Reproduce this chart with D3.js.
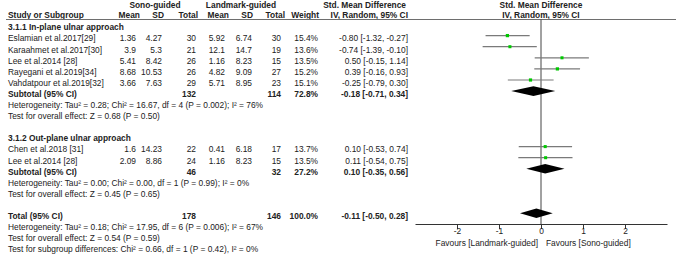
<!DOCTYPE html>
<html><head><meta charset="utf-8">
<script src="https://cdn.jsdelivr.net/npm/d3@7"></script>
<style>
html,body{margin:0;padding:0;background:#fff;}
svg{display:block;font-family:"Liberation Sans",Arial,sans-serif;}
</style></head>
<body>
<svg id="c" width="676" height="255"></svg>
<script>
// ---- data ----
const group1Title = "3.1.1 In-plane ulnar approach";
const group2Title = "3.1.2 Out-plane ulnar approach";
const studies = ["Eslamian et al.2017[29]","Karaahmet et al.2017[30]","Lee et al.2014 [28]","Rayegani et al.2019[34]","Vahdatpour et al.2019[32]","Chen et al.2018 [31]","Lee et al.2014 [28]"];
const studyGroup = [1,1,1,1,1,2,2];
const sonoMean = ["1.36","3.9","5.41","8.68","3.66","1.6","2.09"];
const sonoSD = ["4.27","5.3","8.42","10.53","7.63","14.23","8.86"];
const sonoN = [30,21,26,26,29,22,24];
const landMean = ["5.92","12.1","1.16","4.82","5.71","0.41","1.16"];
const landSD = ["6.74","14.7","8.23","9.09","8.95","6.18","8.23"];
const landN = [30,19,15,27,23,17,15];
const weights = [15.4,13.6,13.5,15.2,15.1,13.7,13.5];
const smd = [-0.80,-0.74,0.50,0.39,-0.25,0.10,0.11];
const ciLo = [-1.32,-1.39,-0.15,-0.16,-0.79,-0.53,-0.54];
const ciHi = [-0.27,-0.10,1.14,0.93,0.30,0.74,0.75];
const pooledLabels = ["Subtotal (95% CI)","Subtotal (95% CI)","Total (95% CI)"];
const pooledSonoN = [132,46,178];
const pooledLandN = [114,32,146];
const pooledWeight = [72.8,27.2,100.0];
const pooledSmd = [-0.18,0.10,-0.11];
const pooledLo = [-0.71,-0.35,-0.50];
const pooledHi = [0.34,0.56,0.28];
const notes1 = ["Heterogeneity: Tau\u00B2 = 0.28; Chi\u00B2 = 16.67, df = 4 (P = 0.002); I\u00B2 = 76%","Test for overall effect: Z = 0.68 (P = 0.50)"];
const notes2 = ["Heterogeneity: Tau\u00B2 = 0.00; Chi\u00B2 = 0.00, df = 1 (P = 0.99); I\u00B2 = 0%","Test for overall effect: Z = 0.45 (P = 0.65)"];
const notesT = ["Heterogeneity: Tau\u00B2 = 0.18; Chi\u00B2 = 17.95, df = 6 (P = 0.006); I\u00B2 = 67%","Test for overall effect: Z = 0.54 (P = 0.59)","Test for subgroup differences: Chi\u00B2 = 0.66, df = 1 (P = 0.42), I\u00B2 = 0%"];
const axisTicks = [-2,-1,0,1,2];
const axisDomain = [-3,3];
const favLeft = "Favours [Landmark-guided]";
const favRight = "Favours [Sono-guided]";

// ---- layout ----
const svg = d3.select("#c");
const FS = 8.4, TXT = "#222";
const x = d3.scaleLinear().domain(axisDomain).range([415,667]);
const rowY = d3.scaleLinear().domain([0,20]).range([24.5, 24.5+20*11.1]);
const textOff = 5.8;
const axisY = 224;
const col = {sm:136, ss:162, sn:196, lm:225, ls:252, ln:281, w:318, ci:408};
const hdr = {sm:140, ss:164, sn:198, lm:229, ls:253, ln:285, w:319, ci:408};
const fmt2 = v => d3.format(".2f")(v).replace("\u2212","-");
const ciText = (m,l,h)=> `${fmt2(m)} [${fmt2(l)}, ${fmt2(h)}]`;

function txt(xp, y, s, opt={}){
  return svg.append("text").attr("x",xp).attr("y",y).text(s)
    .attr("font-size",FS).attr("fill",TXT)
    .attr("font-weight",opt.bold?"bold":"normal")
    .attr("text-anchor",opt.anchor||"start");
}

// header
txt(155,7.5,"Sono-guided",{bold:true,anchor:"middle"});
txt(241,7.5,"Landmark-guided",{bold:true,anchor:"middle"});
txt(406,7.5,"Std. Mean Difference",{bold:true,anchor:"end"});
txt(x(0),7.5,"Std. Mean Difference",{bold:true,anchor:"middle"});
const h2 = 17.5;
txt(8,h2,"Study or Subgroup",{bold:true});
[["Mean",hdr.sm],["SD",hdr.ss],["Total",hdr.sn],["Mean",hdr.lm],["SD",hdr.ls],["Total",hdr.ln],["Weight",hdr.w],["IV, Random, 95% CI",hdr.ci]]
  .forEach(([s,xp])=>txt(xp,h2,s,{bold:true,anchor:"end"}));
txt(x(0),h2,"IV, Random, 95% CI",{bold:true,anchor:"middle"});
svg.append("line").attr("x1",6).attr("x2",676).attr("y1",19.5).attr("y2",19.5)
  .attr("stroke","#6e6e6e").attr("stroke-width",1.2);

// zero line
svg.append("line").attr("x1",x(0)).attr("x2",x(0)).attr("y1",19.5).attr("y2",axisY)
  .attr("stroke","#444").attr("stroke-width",1);

// group titles
txt(8,rowY(0)+textOff,group1Title,{bold:true});
txt(8,rowY(10)+textOff,group2Title,{bold:true});

// study rows
const studyRow = [1,2,3,4,5,11,12];
const sq = d3.scaleSqrt().domain([0,16]).range([0,3.3]);
studies.forEach((s,i)=>{
  const gy = rowY(studyRow[i]), ty = gy+textOff;
  txt(8,ty,s);
  txt(col.sm,ty,sonoMean[i],{anchor:"end"});
  txt(col.ss,ty,sonoSD[i],{anchor:"end"});
  txt(col.sn,ty,sonoN[i],{anchor:"end"});
  txt(col.lm,ty,landMean[i],{anchor:"end"});
  txt(col.ls,ty,landSD[i],{anchor:"end"});
  txt(col.ln,ty,landN[i],{anchor:"end"});
  txt(col.w,ty,weights[i].toFixed(1)+"%",{anchor:"end"});
  txt(col.ci,ty,ciText(smd[i],ciLo[i],ciHi[i]),{anchor:"end"});
  svg.append("line").attr("x1",x(ciLo[i])).attr("x2",x(ciHi[i])).attr("y1",gy).attr("y2",gy)
    .attr("stroke","#7a7a7a").attr("stroke-width",1.2);
  const s2 = sq(weights[i]);
  svg.append("rect").attr("x",x(smd[i])-s2/2).attr("y",gy-s2/2).attr("width",s2).attr("height",s2)
    .attr("fill","#00c800");
});

// pooled rows
const pooledRow = [6,13,17];
pooledLabels.forEach((s,i)=>{
  const gy = rowY(pooledRow[i]), ty = gy+textOff;
  txt(8,ty,s,{bold:true});
  txt(col.sn,ty,pooledSonoN[i],{bold:true,anchor:"end"});
  txt(col.ln,ty,pooledLandN[i],{bold:true,anchor:"end"});
  txt(col.w,ty,pooledWeight[i].toFixed(1)+"%",{bold:true,anchor:"end"});
  txt(col.ci,ty,ciText(pooledSmd[i],pooledLo[i],pooledHi[i]),{bold:true,anchor:"end"});
  const hh = 4.8;
  svg.append("path").attr("d",`M${x(pooledLo[i])},${gy}L${x(pooledSmd[i])},${gy-hh}L${x(pooledHi[i])},${gy}L${x(pooledSmd[i])},${gy+hh}Z`)
    .attr("fill","#000");
});

// notes
notes1.forEach((s,i)=>txt(8,rowY(7+i)+textOff,s));
notes2.forEach((s,i)=>txt(8,rowY(14+i)+textOff,s));
notesT.forEach((s,i)=>txt(8,rowY(18+i)+textOff,s));

// axis
const ax = svg.append("g").attr("transform",`translate(0,${axisY})`)
  .call(d3.axisBottom(x).tickValues(axisTicks).tickSize(5).tickSizeOuter(0).tickFormat(d=>String(d)));
ax.select(".domain").attr("stroke","#333");
ax.selectAll(".tick line").attr("stroke","#333");
ax.selectAll(".tick text").attr("font-size",FS).attr("fill",TXT).attr("font-family","Liberation Sans, Arial, sans-serif").attr("dy","0.55em").attr("y",5);
txt(x(0)-3,246,favLeft,{anchor:"end"});
txt(x(0)+5,246,favRight);
</script>
</body></html>
